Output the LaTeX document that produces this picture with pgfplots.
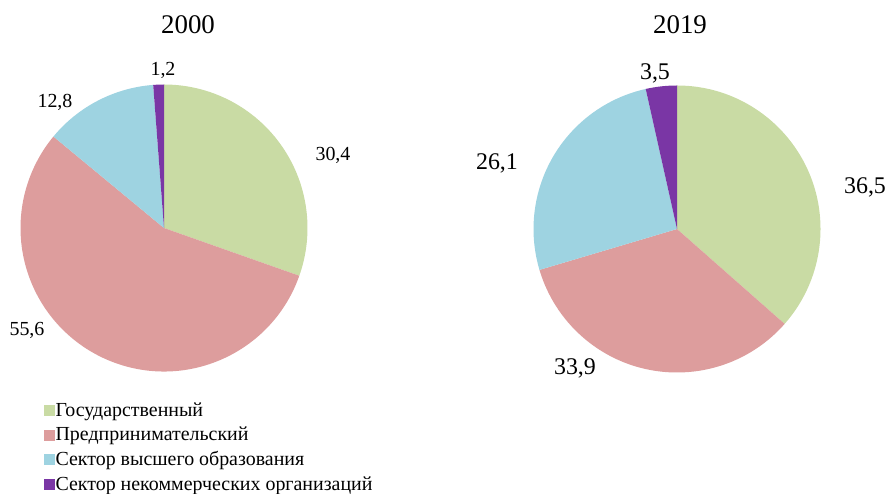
\documentclass[border=0pt]{standalone}
\usepackage{fontspec}
\setmainfont{Liberation Serif}
\usepackage{pgfplots}
\pgfplotsset{compat=1.18}
\definecolor{cgov}{RGB}{201,219,164}
\definecolor{cbus}{RGB}{221,157,157}
\definecolor{cedu}{RGB}{158,211,225}
\definecolor{cnpo}{RGB}{122,54,165}

% pie: centre x, centre y, list of value/colour (clockwise from 12 o'clock)
\newcommand\piechart[3]{%
  \xdef\pieacc{90}%
  \foreach \v/\col in {#3}{%
    \pgfmathsetmacro\pieend{\pieacc-3.6*\v}%
    \edef\tmp{\noexpand\fill[\col] (axis cs:#1,#2) -- ++(\pieacc:143.5bp)
      arc[start angle=\pieacc,end angle=\pieend,radius=143.5bp] -- cycle;}%
    \tmp
    \xdef\pieacc{\pieend}%
  }%
}

\begin{document}
\begin{tikzpicture}
\begin{axis}[
  width=893bp,height=494bp,scale only axis,
  xmin=0,xmax=893,ymin=0,ymax=494,
  hide axis,clip=false,
  legend cell align=left,
  legend style={at={(axis cs:43.5,93)},anchor=north west,draw=none,fill=none,
    font=\fontsize{20}{22}\selectfont,row sep=6.3bp,inner sep=0pt,
    nodes={inner sep=1.5bp}},
]
\path (axis cs:0,0) rectangle (axis cs:893,494);

\piechart{164}{266}{30.4/cgov,55.6/cbus,12.8/cedu,1.2/cnpo}
\piechart{677}{265}{36.5/cgov,33.9/cbus,26.1/cedu,3.5/cnpo}

\node[font=\fontsize{27}{30}\selectfont] at (axis cs:188,469) {2000};
\node[font=\fontsize{27}{30}\selectfont] at (axis cs:680,469) {2019};

\begin{scope}[every node/.style={font=\fontsize{20}{22}\selectfont}]
\node at (axis cs:163,424) {1,2};
\node at (axis cs:55,392) {12,8};
\node at (axis cs:333,339) {30,4};
\node at (axis cs:27,164) {55,6};
\end{scope}
\begin{scope}[every node/.style={font=\fontsize{24}{26}\selectfont}]
\node at (axis cs:655,421) {3,5};
\node at (axis cs:497,331) {26,1};
\node at (axis cs:865,307) {36,5};
\node at (axis cs:575,126) {33,9};
\end{scope}

\addlegendimage{legend image code/.code={\fill[cgov] (0bp,-5bp) rectangle (10bp,5bp);}}
\addlegendentry{Государственный}
\addlegendimage{legend image code/.code={\fill[cbus] (0bp,-5bp) rectangle (10bp,5bp);}}
\addlegendentry{Предпринимательский}
\addlegendimage{legend image code/.code={\fill[cedu] (0bp,-5bp) rectangle (10bp,5bp);}}
\addlegendentry{Сектор высшего образования}
\addlegendimage{legend image code/.code={\fill[cnpo] (0bp,-5bp) rectangle (10bp,5bp);}}
\addlegendentry{Сектор некоммерческих организаций}
\end{axis}
\end{tikzpicture}
\end{document}
